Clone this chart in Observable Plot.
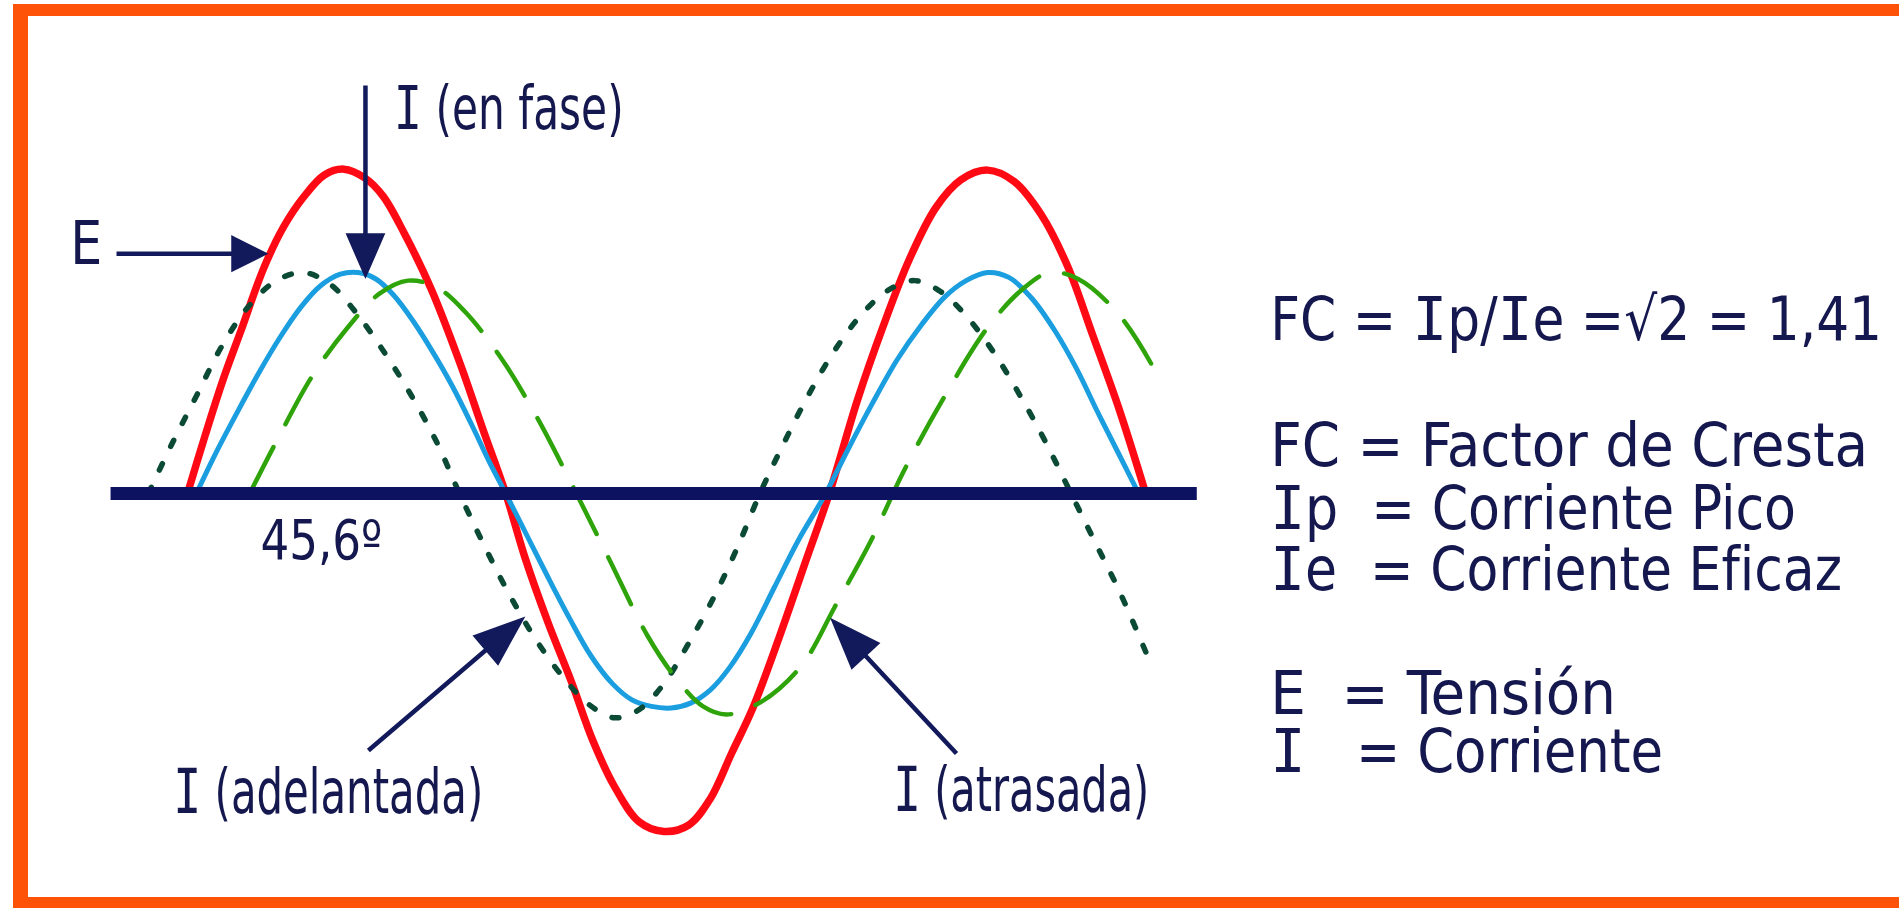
<!DOCTYPE html>
<html lang="es">
<head>
<meta charset="utf-8">
<script src="https://cdn.jsdelivr.net/npm/d3@7"></script>
<script src="https://cdn.jsdelivr.net/npm/@observablehq/plot@0.6"></script>
<style>
  html, body { margin: 0; padding: 0; background: #ffffff; overflow: hidden; }
  #wrap { position: relative; width: 1899px; height: 908px; background: #ffffff; }
  #chart { position: absolute; left: 0; top: 0; }
  #frame { position: absolute; left: 13px; top: 4px; width: 1886px; height: 904px; box-sizing: border-box;
           border-top: 12px solid #fd5207; border-left: 15px solid #fd5207; border-bottom: 11px solid #fd5207;
           pointer-events: none; }
  .fit-text text { font-stretch: condensed; white-space: pre; }
</style>
</head>
<body>
<div id="wrap"><div id="chart"></div><div id="frame"></div></div>
<script>
// ---------------- DATA ----------------
// x = electrical angle (degrees), y = instantaneous value (% of the voltage peak)

// E : tensión (red, solid)
const tensionE = [
  [0,0],[10,18],[20,35],[30,50],[43,69.5],[54,82],[65,91],[77,98],[88,99.8],[100,97],[110,91.5],[122,80],
  [137,63],[154,39],[166,20],[179,0],
  [190,-20],[203,-40],[216,-58],[228,-76],[240,-90],[254,-101],[268,-104],[282,-102],[294,-94],[306,-80],
  [318,-66],[333,-44],[347,-22],[361,0],
  [377,29],[391,51],[406,72],[421,88],[435,96.5],[450,99.5],[465,96],[480,86],[495,70],[509,49],[524,26],[539,0]
];

// I (en fase) (blue, solid)
const corrienteEnFase = [
  [5,0],[16,12.5],[28,25],[40,37],[52,48],[64,57.5],[75,64],[86,67.5],[96,68],[106,66],[116,61],[127,53],
  [138,43.5],[149,33],[160,21],[170,9.5],[179,0],
  [191,-13],[203,-26],[215,-38.5],[227,-50],[239,-58.5],[250,-63.5],[261,-65.5],[272,-66],[283,-64.5],
  [294,-60.5],[305,-53.5],[317,-43],[330,-29],[344,-14],[359,0],
  [371,13],[385,27.5],[399,41],[413,52],[426,60.5],[438,65.5],[450,68],[462,66.5],[475,60],[488,50],
  [500,38.5],[512,25],[524,12],[535,0]
];

// I (adelantada) (dark green, dotted)
const corrienteAdelantada = [
  [-22,0],[-9,15],[5,30],[20,46],[35,58],[50,65.5],[65,68],[80,64.5],[95,55.5],[110,44],[125,31],[140,16],[153,0],
  [166,-15],[180,-30],[196,-45],[212,-57],[226,-65],[240,-69],[254,-66.5],[268,-58.5],[282,-46],[296,-32],[309,-17],[322,0],
  [335,15],[349,30],[364,44],[379,55],[394,62.5],[409,65.5],[424,62],[439,54],[454,43],[469,29.5],[483,15.5],[497,0],
  [511,-15.5],[525,-31],[540,-50]
];

// I (atrasada) (green, dashed)
const corrienteAtrasada = [
  [35,0],[50,16],[70,36],[90,51],[108,61.5],[124,65.5],[140,63.5],[156,56],[176,42],[196,24],[216,3],
  [237,-20],[259,-44],[275,-57],[290,-65.5],[303,-68],[318,-65.5],[333,-60],[348,-51],[364,-35],[384,-15],
  [403,7],[426,30],[450,51],[470,63],[485,68],[501,66],[524,55],[542,40]
];

// horizontal reference axis (degrees)
const axisSpan = [-43, 568];

// annotation texts
const labelE = "E";
const labelEnFase = "I (en fase)";
const labelAngle = "45,6º";
const labelAdelantada = "I (adelantada)";
const labelAtrasada = "I (atrasada)";
const legendLines = [
  "FC = Ip/Ie =√2 = 1,41",
  "FC = Factor de Cresta",
  "Ip  = Corriente Pico",
  "Ie  = Corriente Eficaz",
  "E  = Tensión",
  "I   = Corriente"
];

// ---------------- LAYOUT / STYLE ----------------
const ink = "#15184f";
const navy = "#121a5c";
const font = "'DejaVu Sans Condensed', 'DejaVu Sans', Verdana, sans-serif";
const serifI = "'DejaVu Sans Mono', monospace";

// label anchors in chart units (degree, %), baseline-left
const labelAnchors = [
  {text: labelE, x: -66, y: 70.5, size: 60, fit: 32},
  {text: labelEnFase, x: 116, y: 112.3, size: 60, fit: 230},
  {text: labelAngle, x: 41, y: -20, size: 55, fit: 122},
  {text: labelAdelantada, x: -8, y: -98.2, size: 62, fit: 310},
  {text: labelAtrasada, x: 397, y: -97.8, size: 62, fit: 256}
];
const legendX = 609;
const legendY = [47.1, 8.6, -10.8, -29.8, -67.7, -85.8];
const legendFit = [612, 598, 526, 572, 346, 393];

// arrows: tip in chart units, geometry in pixels
const arrowSpecs = [
  {x: 42.75, y: 73.8, length: 147, rotate: 90, head: 30, width: 30},
  {x: 100.1, y: 67.7, length: 188, rotate: 180, head: 38, width: 33},
  {x: 187.3, y: -39.1, length: 200, rotate: 49.5, head: 44, width: 33},
  {x: 363.9, y: -39.7, length: 179, rotate: -43, head: 44, width: 33}
];

function arrowShape(head, width) {
  return {
    draw(context, l) {
      context.moveTo(0, 0);
      context.lineTo(0, -l + head * 0.7);
      context.moveTo(-width / 2, -l + head);
      context.lineTo(0, -l);
      context.lineTo(width / 2, -l + head);
      context.closePath();
    }
  };
}

const X = d => d[0], Y = d => d[1];

const legendData = legendLines.map((t, i) => ({text: t, y: legendY[i], fit: legendFit[i]}));
const fitMap = new Map();
labelAnchors.forEach(d => d.fit && fitMap.set(d.text, d.fit));
legendData.forEach(d => fitMap.set(d.text, d.fit));

const chart = Plot.plot({
  width: 1899,
  height: 908,
  margin: 0,
  style: {background: "transparent", overflow: "visible"},
  x: {domain: [0, 540], range: [187, 1147], axis: null},
  y: {domain: [-100, 100], range: [818, 168], axis: null},
  marks: [
    Plot.line(tensionE, {x: X, y: Y, stroke: "#ff0a14", strokeWidth: 7.5, curve: "catmull-rom"}),
    Plot.line(corrienteEnFase, {x: X, y: Y, stroke: "#1b9ee0", strokeWidth: 5, curve: "catmull-rom"}),
    Plot.line(corrienteAdelantada, {x: X, y: Y, stroke: "#0b4a35", strokeWidth: 5.5, strokeDasharray: "7 19", curve: "catmull-rom"}),
    Plot.line(corrienteAtrasada, {x: X, y: Y, stroke: "#2ea40a", strokeWidth: 4.5, strokeDasharray: "52 26", curve: "catmull-rom"}),
    Plot.ruleY([0], {x1: axisSpan[0], x2: axisSpan[1], stroke: "#0c1260", strokeWidth: 13}),
    ...arrowSpecs.map(a => Plot.vector([a], {
      x: "x", y: "y", length: a.length, rotate: a.rotate, anchor: "end",
      shape: arrowShape(a.head, a.width), stroke: navy, fill: navy, strokeWidth: 4.5,
      strokeLinejoin: "miter", strokeLinecap: "butt"
    })),
    ...labelAnchors.map(d => Plot.text([d], {
      x: "x", y: "y", text: "text", textAnchor: "start", lineAnchor: "bottom",
      fontSize: d.size, fontFamily: font, fill: ink, className: "fit-text"
    })),
    Plot.text(legendData, {
      x: legendX, y: "y", text: "text", textAnchor: "start", lineAnchor: "bottom",
      fontSize: 60, fontFamily: font, fill: ink, className: "fit-text"
    })
  ]
});

document.getElementById("chart").appendChild(chart);

// give the capital I its serifs, then squeeze each text horizontally to its width in the reference
d3.select(chart).selectAll(".fit-text text").each(function () {
  const t = d3.select(this);
  const content = this.textContent;
  const w = fitMap.get(content);
  if (content.includes("I")) {
    t.text(null);
    content.split(/(I)/).filter(s => s.length).forEach(part => {
      const ts = t.append("tspan").text(part);
      if (part === "I") ts.attr("font-family", serifI).style("font-stretch", "normal");
    });
  }
  if (w) {
    const natural = this.getComputedTextLength();
    if (natural > 0) {
      const sx = w / natural;
      const xAttr = t.attr("x");
      const x0 = xAttr && !isNaN(+xAttr) ? +xAttr : 0;
      const T = t.attr("transform") || "";
      t.attr("x", null).attr("transform", `${T} translate(${x0},0) scale(${sx},1)`);
    }
  }
});
</script>
</body>
</html>
